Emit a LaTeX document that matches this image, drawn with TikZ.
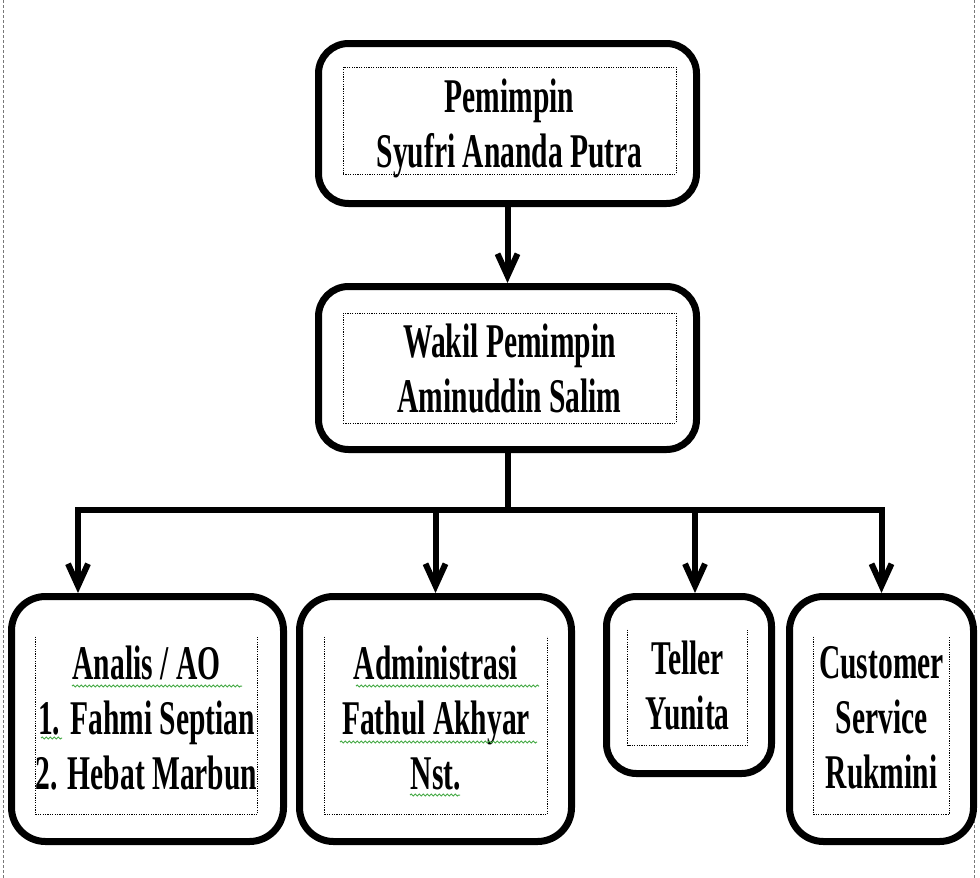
\documentclass[tikz,border=0pt]{standalone}
\usepackage{fontspec}
\newfontfamily\orgfont{Liberation Serif}[FakeStretch=0.61]
\usepackage{tikz}
\usetikzlibrary{arrows.meta,positioning,decorations.pathmorphing}
\definecolor{spellgreen}{RGB}{70,170,70}
\definecolor{pageline}{RGB}{120,120,120}
\tikzset{
  unitbox/.style={draw, line width=3.5pt, rounded corners=15pt, inner sep=0pt},
  dotframe/.style={line width=0.5pt, dash pattern=on 0.6pt off 0.6pt},
  nametext/.style={inner sep=0pt, align=center, font=\orgfont\bfseries\fontsize{24.2}{27.5}\selectfont},
  link/.style={line width=3pt},
  drop/.style={link, -{Straight Barb[length=11pt,width=10pt]}},
  spell/.style={spellgreen, line width=0.5pt, decorate, decoration={snake, amplitude=0.5pt, segment length=2pt}},
}

\begin{document}
\begin{tikzpicture}[x=0.5pt, y=-0.5pt]
  \useasboundingbox (0,0) rectangle (980,878);
  % page border
  \draw[pageline, line width=0.5pt, dash pattern=on 1.5pt off 1pt] (3,0) -- (3,878);
  \draw[pageline, line width=0.5pt, dash pattern=on 1.5pt off 1pt] (974,0) -- (974,878);
  % Pimpinan
  \node[unitbox, minimum width=189pt, minimum height=80pt] (pemimpin) at (507.5,123.5) {};
  \node[draw, dotframe, minimum width=166.5pt, minimum height=53.5pt] (pemimpin-in) at (509.5,120.5) {};
  \node[nametext] (pemimpin-txt) at (509.5,128) {Pemimpin\\Syufri Ananda Putra};
  \node[unitbox, minimum width=189pt, minimum height=81.5pt] (wakil) at (507.5,368) {};
  \node[draw, dotframe, minimum width=166.5pt, minimum height=55pt] (wakil-in) at (509.5,368) {};
  \node[nametext] (wakil-txt) at (509.5,368) {Wakil Pemimpin\\Aminuddin Salim};
  % Staf
  \node[unitbox, rounded corners=17pt, minimum width=136pt, minimum height=122.5pt] (analis) at (147.5,719) {};
  \node[minimum width=110.5pt, minimum height=88.5pt] (analis-in) at (146.5,725.5) {};
  \node[nametext] (analis-txt) at (146.5,718) {Analis / AO\\1. Fahmi Septian\\2. Hebat Marbun};
  \node[unitbox, rounded corners=17pt, minimum width=136pt, minimum height=122.5pt] (admin) at (435.5,719) {};
  \node[minimum width=111pt, minimum height=88.5pt] (admin-in) at (436,725.5) {};
  \node[nametext] (admin-txt) at (436,718) {Administrasi\\Fathul Akhyar\\Nst.};
  \node[unitbox, minimum width=82.5pt, minimum height=88.5pt] (teller) at (689,685) {};
  \node[minimum width=59.5pt, minimum height=57.5pt] (teller-in) at (687.5,687.5) {};
  \node[nametext] (teller-txt) at (687.5,685.5) {Teller\\Yunita};
  \node[unitbox, rounded corners=17pt, minimum width=92pt, minimum height=122.5pt] (cs) at (881.5,719) {};
  \node[minimum width=67.5pt, minimum height=88.5pt] (cs-in) at (881.5,725.5) {};
  \node[nametext] (cs-txt) at (881.5,718) {Customer\\Service\\Rukmini};
  % open dotted frames
  \draw[dotframe] (analis-in.north west) |- (analis-in.south east) -- (analis-in.north east);
  \draw[dotframe] (admin-in.north west) |- (admin-in.south east) -- (admin-in.north east);
  \draw[dotframe] (teller-in.north west) |- (teller-in.south east) -- (teller-in.north east);
  \draw[dotframe] (cs-in.north west) |- (cs-in.south east) -- (cs-in.north east);
  % spelling marks
  \draw[spell] (72,686) -- (242,686);
  \draw[spell] (41,738) -- (62,738);
  \draw[spell] (356,686) -- (539,686);
  \draw[spell] (340,742) -- (537,742);
  \draw[spell] (410,795) -- (460,795);
  % connectors
  \coordinate (bus) at (507.5,510);
  \draw[drop] (pemimpin.south) -- (wakil.north);
  \draw[link] (wakil.south) -- (bus);
  \draw[drop] (bus) -| ([xshift=35pt]analis.north west);
  \draw[drop] (bus) -| (admin.north);
  \draw[drop] (bus) -| ([xshift=3pt]teller.north);
  \draw[drop] (bus) -| (cs.north);
\end{tikzpicture}
\end{document}
